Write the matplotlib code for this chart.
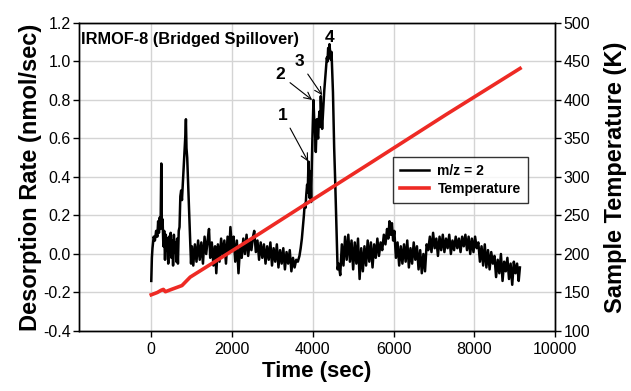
import matplotlib
matplotlib.use("Agg")
import matplotlib.pyplot as plt

plt.rcParams['font.family'] = ['Liberation Sans', 'DejaVu Sans']
plt.rcParams['axes.unicode_minus'] = False

# m/z = 2 desorption rate (nmol/sec) vs time (sec)
time_s = [
    0, 15, 30, 60, 90, 120, 150, 170, 190, 210, 230, 248, 262, 280, 300, 320, 340, 360, 380, 400,
    420, 440, 460, 480, 500, 520, 540, 560, 580, 600, 620, 640, 660, 680, 700, 720, 740, 760, 780, 800,
    825, 845, 858, 872, 890, 910, 925, 945, 965, 985, 1005,
    1040, 1080, 1120, 1160, 1200, 1240, 1280, 1320, 1360, 1400, 1430, 1460, 1500, 1540, 1580, 1610,
    1650, 1690, 1730, 1770, 1810, 1850, 1890, 1930, 1960, 2000, 2040, 2080, 2120, 2160, 2200, 2240,
    2280, 2320, 2360, 2400, 2440, 2480, 2520, 2550, 2590, 2630, 2670, 2710, 2750, 2790, 2830, 2870,
    2910, 2950, 2990, 3030, 3070, 3110, 3150, 3190, 3230, 3270, 3310, 3350, 3390, 3430, 3470, 3510,
    3550, 3590, 3630, 3670, 3700, 3730, 3760, 3780, 3800, 3820, 3840, 3860, 3875, 3894, 3910, 3925,
    3940, 3960, 3975, 3993, 4017, 4035, 4050, 4075, 4100, 4120, 4133, 4150, 4166, 4185, 4199, 4215,
    4232, 4250, 4265, 4285, 4307, 4330, 4348, 4365, 4381, 4400, 4414, 4430, 4445, 4464, 4480, 4500,
    4515, 4530, 4555, 4575, 4595, 4615, 4640,
    4680, 4720, 4760, 4800, 4840, 4880, 4920, 4960, 5000, 5040, 5080, 5120, 5160, 5200, 5240, 5280,
    5320, 5360, 5400, 5440, 5480, 5520, 5560, 5600, 5640, 5680, 5720, 5760, 5800, 5840, 5870, 5900,
    5930, 5960, 5990, 6020, 6060, 6100, 6140, 6180, 6220, 6260, 6300, 6340, 6380, 6420, 6460, 6500,
    6540, 6580, 6620, 6660, 6700, 6740, 6780, 6820, 6860, 6900, 6940, 6980, 7020, 7060, 7100, 7140,
    7180, 7220, 7260, 7300, 7340, 7380, 7420, 7460, 7500, 7540, 7580, 7620, 7660, 7700, 7740, 7780,
    7820, 7860, 7900, 7940, 7980, 8020, 8060, 8100, 8140, 8180, 8220, 8260, 8300, 8340, 8380, 8420,
    8460, 8500, 8540, 8580, 8620, 8660, 8700, 8740, 8780, 8820, 8860, 8900, 8940, 8980, 9020, 9060,
    9100, 9130,
]
rate = [
    -0.14, -0.02, 0.03, 0.09, 0.07, 0.12, 0.09, 0.17, 0.11, 0.19, 0.13, 0.47, 0.15, 0.18, 0.04, 0.12, -0.03, 0.10, 0.02, 0.08,
    -0.05, 0.09, 0.00, 0.11, -0.02, 0.07, -0.06, 0.10, 0.01, 0.06, -0.04, 0.08, -0.05, 0.12, 0.14, 0.30, 0.33, 0.28, 0.36, 0.44,
    0.54, 0.62, 0.70, 0.55, 0.50, 0.38, 0.30, 0.16, 0.06, -0.05, 0.04,
    -0.06, 0.05, -0.04, 0.07, -0.03, 0.06, -0.05, 0.09, 0.00, 0.08, 0.13, -0.02, 0.06, -0.06, 0.04, -0.10,
    0.05, -0.04, 0.08, -0.01, 0.07, -0.05, 0.09, 0.01, 0.14, 0.02, 0.09, -0.04, 0.07, -0.10, 0.04, -0.02,
    0.08, 0.00, 0.10, -0.01, 0.07, 0.02, 0.09, 0.12, 0.01, 0.07, -0.03, 0.06, -0.02, 0.05, -0.05, 0.04,
    -0.03, 0.06, -0.06, 0.03, -0.04, 0.05, -0.07, 0.02, -0.05, 0.03, -0.08, 0.01, -0.05, 0.02, -0.09, -0.02,
    -0.07, -0.03, -0.04, -0.01, 0.03, 0.08, 0.15, 0.20, 0.26, 0.24, 0.31, 0.36, 0.32, 0.48, 0.40, 0.29,
    0.43, 0.27, 0.45, 0.62, 0.80, 0.70, 0.67, 0.53, 0.70, 0.62, 0.60, 0.70, 0.74, 0.66, 0.82, 0.72,
    0.65, 0.72, 0.77, 0.85, 0.91, 0.97, 1.02, 1.00, 1.07, 1.05, 1.09, 1.05, 1.01, 1.05, 0.95, 0.84,
    0.70, 0.55, 0.38, 0.22, 0.06, -0.08, -0.05,
    -0.11, 0.05, -0.06, 0.09, -0.03, 0.10, -0.04, 0.07, -0.08, 0.06, -0.05, 0.08, -0.13, 0.03, -0.09, 0.04,
    -0.06, 0.07, -0.04, 0.06, -0.07, 0.05, -0.02, 0.08, -0.01, 0.06, 0.02, 0.10, 0.05, 0.13, 0.08, 0.17,
    0.10, 0.16, 0.07, 0.12, -0.02, 0.06, -0.06, 0.04, -0.05, 0.05, -0.04, 0.07, -0.07, 0.03, -0.05, 0.06,
    -0.03, 0.04, -0.08, 0.02, -0.10, 0.00, -0.09, 0.05, 0.02, 0.09, 0.01, 0.11, 0.03, 0.08, -0.01, 0.09,
    0.02, 0.10, 0.01, 0.08, 0.03, 0.10, 0.00, 0.07, 0.02, 0.09, 0.03, 0.08, 0.01, 0.09, 0.04, 0.10,
    0.02, 0.09, 0.00, 0.08, 0.01, 0.09, 0.03, 0.06, -0.04, 0.04, -0.06, 0.05, -0.07, 0.02, -0.08, 0.01,
    -0.05, -0.01, -0.12, -0.03, -0.10, 0.00, -0.14, -0.04, -0.09, -0.02, -0.13, -0.05, -0.16, -0.04, -0.10, -0.05,
    -0.14, -0.07,
]

# sample temperature (K)
temp_time = [0, 150, 250, 300, 350, 500, 760, 965, 2698, 3770, 5421, 7300, 9134]
temp_K = [147, 150, 153, 154, 151, 154, 159, 170, 227, 263, 318, 381, 441]

x_ticks = [0, 2000, 4000, 6000, 8000, 10000]
rate_ticks = [-0.4, -0.2, 0.0, 0.2, 0.4, 0.6, 0.8, 1.0, 1.2]
temp_ticks = [100, 150, 200, 250, 300, 350, 400, 450, 500]

# peak labels: text, text position, arrow tip (None = no arrow)
peak_labels = ["1", "2", "3", "4"]
peak_text_xy = [(3267, 0.72), (3193, 0.93), (3663, 1.0), (4406, 1.127)]
peak_tip_xy = [(3886, 0.48), (3985, 0.80), (4233, 0.825), None]

fig = plt.figure(figsize=(6.31, 3.91), dpi=100)
ax = fig.add_axes([0.1252, 0.1535, 0.7544, 0.7877])
ax2 = ax.twinx()

l1, = ax.plot(time_s, rate, color='black', lw=1.8, label='m/z = 2')
l2, = ax2.plot(temp_time, temp_K, color='#ee2a24', lw=2.6, label='Temperature')

ax.set_xlim(-1790, 10000)
ax.set_ylim(-0.4, 1.2)
ax2.set_ylim(100, 500)
ax.set_xticks(x_ticks)
ax.set_yticks(rate_ticks)
ax.set_yticklabels([f"{v:.1f}" for v in rate_ticks])
ax2.set_yticks(temp_ticks)

ax.grid(True, color='#d4d4d4', lw=1.0)
ax.set_axisbelow(True)
for a in (ax, ax2):
    a.tick_params(direction='out', length=4, width=1, labelsize=11.5, colors='black', pad=2)
    for s in a.spines.values():
        s.set_linewidth(1.0)
ax.tick_params(axis='x', pad=4)

ax.set_xlabel('Time (sec)', fontsize=16, fontweight='bold', labelpad=3)
ax.set_ylabel('Desorption Rate (nmol/sec)', fontsize=17, fontweight='bold', labelpad=1)
ax2.set_ylabel('Sample Temperature (K)', fontsize=17, fontweight='bold', labelpad=10)

ax.text(0.005, 0.945, 'IRMOF-8 (Bridged Spillover)', transform=ax.transAxes,
        ha='left', va='center', fontsize=11.8, fontweight='bold')

for lab, txy, tip in zip(peak_labels, peak_text_xy, peak_tip_xy):
    if tip is None:
        ax.text(txy[0], txy[1], lab, ha='center', va='center', fontsize=12.5, fontweight='bold')
    else:
        ax.annotate(lab, xy=tip, xytext=txy, ha='center', va='center',
                    fontsize=12.5, fontweight='bold',
                    arrowprops=dict(arrowstyle='->', color='black', lw=0.8, shrinkA=2, shrinkB=0))

leg = ax2.legend([l1, l2], ['m/z = 2', 'Temperature'], loc='center',
                 bbox_to_anchor=(0.801, 0.49), frameon=True, fancybox=False,
                 edgecolor='black', handlelength=2.1, handletextpad=0.6,
                 borderpad=0.5, labelspacing=0.25,
                 prop={'weight': 'bold', 'size': 10})
leg.get_frame().set_linewidth(1.0)

fig.savefig('out.png', dpi=100)
